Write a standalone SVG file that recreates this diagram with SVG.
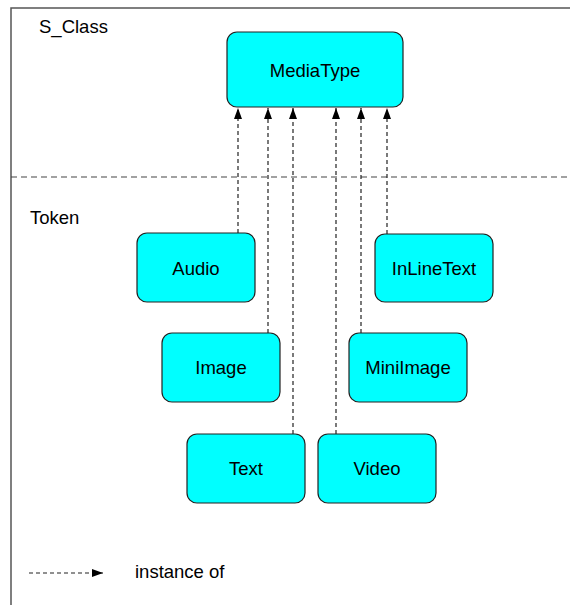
<svg xmlns="http://www.w3.org/2000/svg" width="570" height="605" viewBox="0 0 570 605">
<style>
.box{fill:#00ffff;stroke:#222;stroke-width:1.2}
.lbl{font-family:"Liberation Sans",Arial,sans-serif;font-size:18.5px;fill:#000;text-anchor:middle}
.plain{font-family:"Liberation Sans",Arial,sans-serif;font-size:18.5px;fill:#000}
.dash{stroke:#222;stroke-width:1.2;stroke-dasharray:4,3;fill:none}
.frame{stroke:#555;stroke-width:1.5;fill:none}
</style>
<defs>
<marker id="ah" markerWidth="11" markerHeight="8" refX="11" refY="4" orient="auto" markerUnits="userSpaceOnUse">
<path d="M0,0 L11,4 L0,8 z" fill="#000"/>
</marker>
</defs>
<g id="frame">
<path class="frame" d="M11,605 L11,8 L570,8"/>
<line x1="11" y1="177" x2="570" y2="177" stroke="#444" stroke-width="1.2" stroke-dasharray="6,4"/>
<text class="plain" x="39" y="33">S_Class</text>
<text class="plain" x="30" y="224">Token</text>
</g>
<g id="connectors">
<line class="dash" x1="238" y1="233" x2="238" y2="108" marker-end="url(#ah)"/>
<line class="dash" x1="268" y1="333" x2="268" y2="108" marker-end="url(#ah)"/>
<line class="dash" x1="293" y1="434" x2="293" y2="108" marker-end="url(#ah)"/>
<line class="dash" x1="336" y1="434" x2="336" y2="108" marker-end="url(#ah)"/>
<line class="dash" x1="361" y1="333" x2="361" y2="108" marker-end="url(#ah)"/>
<line class="dash" x1="387" y1="234" x2="387" y2="108" marker-end="url(#ah)"/>
</g>
<g id="MediaType">
<rect class="box" x="227" y="32" width="176" height="75" rx="10"/>
<text class="lbl" x="315" y="77">MediaType</text>
</g>
<g id="Audio">
<rect class="box" x="137" y="233" width="118" height="69" rx="10"/>
<text class="lbl" x="196" y="275">Audio</text>
</g>
<g id="InLineText">
<rect class="box" x="375" y="234" width="118" height="68" rx="10"/>
<text class="lbl" x="434" y="275">InLineText</text>
</g>
<g id="Image">
<rect class="box" x="162" y="333" width="118" height="69" rx="10"/>
<text class="lbl" x="221" y="374">Image</text>
</g>
<g id="MiniImage">
<rect class="box" x="349" y="333" width="118" height="69" rx="10"/>
<text class="lbl" x="408" y="374">MiniImage</text>
</g>
<g id="Text">
<rect class="box" x="187" y="434" width="118" height="69" rx="10"/>
<text class="lbl" x="246" y="475">Text</text>
</g>
<g id="Video">
<rect class="box" x="318" y="434" width="118" height="69" rx="10"/>
<text class="lbl" x="377" y="475">Video</text>
</g>
<g id="legend">
<line class="dash" x1="29" y1="573" x2="103" y2="573" marker-end="url(#ah)"/>
<text class="plain" x="135" y="578">instance of</text>
</g>
</svg>
